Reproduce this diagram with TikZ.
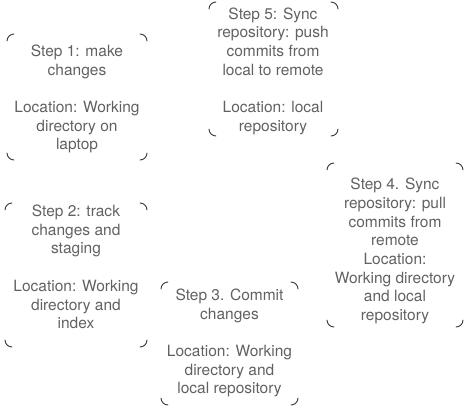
\documentclass[tikz,border=0pt]{standalone}
\usepackage{fontspec}
\setmainfont{TeX Gyre Heros}
\begin{document}
\begin{tikzpicture}[x=1pt,y=-1pt]
\tikzset{
  frame/.style={inner sep=0pt, outer sep=0pt, draw=none},
  corner/.style={draw=black!78, line width=0.9pt, line cap=round},
  steptext/.style={font=\fontsize{15.5}{18.7}\selectfont, text=black!62, align=center, inner sep=0pt}
}
\useasboundingbox (0,0) rectangle (467,408);
\newcommand\cornersof[1]{%
  \draw[corner] ([yshift=-7pt]#1.north west) arc[start angle=180,end angle=90,radius=7pt];
  \draw[corner] ([xshift=-7pt]#1.north east) arc[start angle=90,end angle=0,radius=7pt];
  \draw[corner] ([yshift=7pt]#1.south east) arc[start angle=0,end angle=-90,radius=7pt];
  \draw[corner] ([xshift=7pt]#1.south west) arc[start angle=270,end angle=180,radius=7pt];
}
% boxes
\node[frame, minimum width=140pt, minimum height=126pt] (b1) at (77,97) {};
\node[frame, minimum width=142pt, minimum height=144pt] (b2) at (76,275) {};
\node[frame, minimum width=137pt, minimum height=123pt] (b3) at (229.5,343.5) {};
\node[frame, minimum width=136pt, minimum height=164pt] (b4) at (395,245) {};
\node[frame, minimum width=129pt, minimum height=134pt] (b5) at (273.5,69) {};
\cornersof{b1}
\cornersof{b2}
\cornersof{b3}
\cornersof{b4}
\cornersof{b5}
% texts
\node[steptext] (t1) at (77,99) {Step 1: make\\changes\\[18.7pt]Location: Working\\directory on\\laptop};
\node[steptext] (t2) at (76,267) {Step 2: track\\changes and\\staging\\[18.7pt]Location: Working\\directory and\\index};
\node[steptext] (t3) at (229.5,343) {Step 3. Commit\\changes\\[18.7pt]Location: Working\\directory and\\local repository};
\node[steptext] (t4) at (395,251) {Step 4. Sync\\repository: pull\\commits from\\remote\\Location:\\Working directory\\and local\\repository};
\node[steptext] (t5) at (273,71) {Step 5: Sync\\repository: push\\commits from\\local to remote\\[18.7pt]Location: local\\repository};
\end{tikzpicture}
\end{document}
